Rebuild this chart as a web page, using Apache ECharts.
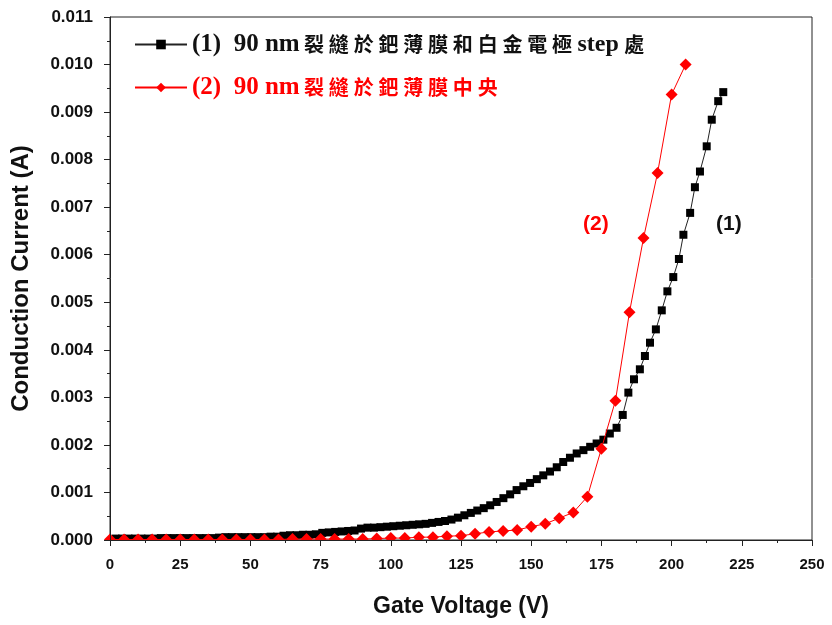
<!DOCTYPE html>
<html>
<head>
<meta charset="utf-8">
<script src="https://cdn.jsdelivr.net/npm/echarts@6/dist/echarts.min.js"></script>
<style>
  html, body { margin: 0; padding: 0; background: #fff; }
  #chart { width: 832px; height: 625px; }
</style>
</head>
<body>
<div id="chart"></div>
<script>
// Sample (1): crack at the Pd film / Pt electrode step
const name1 = '(1)  90 nm裂縫於鈀薄膜和白金電極step處';
const voltage1 = [
  2.0, 4.3, 6.6, 8.9, 11.2, 13.5, 15.8, 18.1, 20.4, 22.7,
  25.0, 27.3, 29.6, 31.9, 34.2, 36.5, 38.8, 41.1, 43.4, 45.7,
  48.0, 50.3, 52.6, 54.9, 57.2, 59.5, 61.8, 64.1, 66.4, 68.7,
  71.0, 73.3, 75.6, 77.9, 80.2, 82.5, 84.8, 87.1, 89.4, 91.7,
  94.0, 96.3, 98.6, 100.9, 103.2, 105.5, 107.8, 110.1, 112.4, 114.7,
  117.0, 119.3, 121.6, 123.9, 126.2, 128.5, 130.8, 133.1, 135.4, 137.7,
  140.1, 142.5, 144.8, 147.2, 149.6, 152.0, 154.3, 156.7, 159.1, 161.4,
  163.8, 166.2, 168.6, 171.0, 173.3, 175.7, 178.0, 180.4, 182.6, 184.6,
  186.6, 188.7, 190.5, 192.3, 194.4, 196.5, 198.5, 200.6, 202.6, 204.2,
  206.6, 208.3, 210.1, 212.5, 214.3, 216.6, 218.4
];
const current1 = [
  0.00003, 0.00003, 0.00003, 0.00003, 0.00003, 0.00003, 0.00003, 0.00004, 0.00004, 0.00004,
  0.00004, 0.00004, 0.00004, 0.00004, 0.00004, 0.00004, 0.00005, 0.00006, 0.00006, 0.00006,
  0.00006, 0.00006, 0.00006, 0.00006, 0.00007, 0.00007, 0.00009, 0.00010, 0.00010, 0.00011,
  0.00011, 0.00012, 0.00015, 0.00016, 0.00017, 0.00018, 0.00019, 0.00020, 0.00024, 0.00026,
  0.00026, 0.00027, 0.00028, 0.00029, 0.00030, 0.00031, 0.00032, 0.00033, 0.00034, 0.00036,
  0.00038, 0.00040, 0.00043, 0.00047, 0.00052, 0.00057, 0.00062, 0.00067, 0.00073, 0.00080,
  0.00088, 0.00096, 0.00105, 0.00113, 0.00120, 0.00128, 0.00136, 0.00144, 0.00153, 0.00164,
  0.00173, 0.00182, 0.00189, 0.00196, 0.00203, 0.00211, 0.00224, 0.00236, 0.00263, 0.00310,
  0.00338, 0.00359, 0.00387, 0.00415, 0.00443, 0.00483, 0.00523, 0.00553, 0.00591, 0.00642,
  0.00688, 0.00742, 0.00775, 0.00828, 0.00884, 0.00923, 0.00942
];

// Sample (2): crack in the middle of the Pd film
const name2 = '(2)  90 nm裂縫於鈀薄膜中央';
const voltage2 = [
  0, 5, 10, 15, 20, 25, 30, 35, 40, 45,
  50, 55, 60, 65, 70, 75, 80, 85, 90, 95,
  100, 105, 110, 115, 120, 125, 130, 135, 140, 145,
  150, 155, 160, 165, 170, 175, 180, 185, 190, 195,
  200, 205
];
const current2 = [
  0.00001, 0.00001, 0.00001, 0.00001, 0.00001, 0.00001, 0.00001, 0.00001, 0.00001, 0.00001,
  0.00001, 0.00001, 0.00001, 0.00002, 0.00002, 0.00002, 0.00002, 0.00002, 0.00002, 0.00003,
  0.00004, 0.00004, 0.00006, 0.00006, 0.00008, 0.00009, 0.00013, 0.00017, 0.00019, 0.00021,
  0.00028, 0.00034, 0.00046, 0.00058, 0.00091, 0.00192, 0.00293, 0.00479, 0.00635, 0.00772,
  0.00937, 0.01000
];

// Axis ranges and tick steps
const xMin = 0, xMax = 250, xStep = 25;
const yMin = 0, yMax = 0.011, yStep = 0.001;

const xTitle = 'Gate Voltage (V)';
const yTitle = 'Conduction Current (A)';
const tag1 = '(1)';
const tag2 = '(2)';

const pairs = (xs, ys) => xs.map((x, i) => [x, ys[i]]);

const axisFont = 'Liberation Sans, Arial, sans-serif';

// Legend labels: Latin runs in a serif face, each CJK character spaced out on its own
function legendLabel(text) {
  let out = '';
  let latin = '';
  let first = true;
  const flush = () => {
    if (latin) { out += '{' + (first ? 'l' : 's') + '|' + latin + '}'; latin = ''; first = false; }
  };
  for (const ch of text) {
    if (/[\u3400-\u9fff]/.test(ch)) {
      flush();
      first = false;
      out += '{k|' + ch + '}';
    } else {
      latin += ch;
    }
  }
  flush();
  return out;
}

const chart = echarts.init(document.getElementById('chart'), null, { renderer: 'canvas' });

chart.setOption({
  animation: false,
  backgroundColor: '#ffffff',
  grid: {
    left: 110, right: 20, top: 17, bottom: 85,
    show: true, borderColor: '#222', borderWidth: 1, backgroundColor: 'transparent'
  },
  legend: {
    orient: 'vertical',
    left: 129, top: 27,
    itemWidth: 52, itemHeight: 12, itemGap: 18,
    formatter: legendLabel,
    textStyle: {
      fontWeight: 'bold', color: '#111', fontSize: 22,
      rich: {
        l: { fontFamily: 'Liberation Serif, serif', fontSize: 25, fontWeight: 'bold', padding: [0, 2, 0, 0] },
        s: { fontFamily: 'Liberation Serif, serif', fontSize: 24, fontWeight: 'bold', padding: [0, 3, 0, 3] },
        k: { fontFamily: 'Noto Sans CJK TC, sans-serif', fontSize: 20, fontWeight: 'bold', padding: [0, 2.4, 0, 2.4] }
      }
    },
    data: [
      { name: name1, textStyle: { color: '#111' } },
      { name: name2, textStyle: { color: '#ff0000' } }
    ]
  },
  xAxis: {
    type: 'value', min: xMin, max: xMax, interval: xStep, z: 100,
    name: xTitle, nameLocation: 'middle', nameGap: 55,
    nameTextStyle: { fontFamily: axisFont, fontSize: 23, fontWeight: 'bold', color: '#111' },
    axisLine: { show: true, lineStyle: { color: '#222', width: 1 } },
    axisTick: { show: true, inside: false, length: 6, lineStyle: { color: '#222' } },
    minorTick: { show: true, splitNumber: 2, length: 3, lineStyle: { color: '#222' } },
    splitLine: { show: false },
    axisLabel: { margin: 17, fontFamily: axisFont, fontSize: 15, fontWeight: 'bold', color: '#111' }
  },
  yAxis: {
    type: 'value', min: yMin, max: yMax, interval: yStep, z: 100,
    name: yTitle, nameLocation: 'middle', nameGap: 77,
    nameTextStyle: { fontFamily: axisFont, fontSize: 24, fontWeight: 'bold', color: '#111' },
    axisLine: { show: true, lineStyle: { color: '#222', width: 1 } },
    axisTick: { show: true, inside: false, length: 6, lineStyle: { color: '#222' } },
    minorTick: { show: true, splitNumber: 2, length: 3, lineStyle: { color: '#222' } },
    splitLine: { show: false },
    axisLabel: {
      margin: 17, fontFamily: axisFont, fontSize: 17, fontWeight: 'bold', color: '#111',
      formatter: v => v.toFixed(3)
    }
  },
  graphic: [
    // mask below the bottom axis so markers sitting on zero appear cut by the frame
    { type: 'rect', z: 50, shape: { x: 100, y: 541, width: 720, height: 7 }, style: { fill: '#fff' } },
    { type: 'text', z: 60, left: 583, top: 214,
      style: { text: tag2, fill: '#ff0000', font: 'bold 21px Liberation Sans, Arial, sans-serif' } },
    { type: 'text', z: 60, left: 716, top: 214,
      style: { text: tag1, fill: '#111', font: 'bold 21px Liberation Sans, Arial, sans-serif' } }
  ],
  series: [
    {
      name: name1, type: 'line', data: pairs(voltage1, current1),
      symbol: 'rect', symbolSize: 8, showSymbol: true,
      lineStyle: { color: '#222', width: 1 },
      itemStyle: { color: '#000' },
      z: 3
    },
    {
      name: name2, type: 'line', data: pairs(voltage2, current2),
      symbol: 'diamond', symbolSize: 12, showSymbol: true,
      lineStyle: { color: '#ff0000', width: 1 },
      itemStyle: { color: '#ff0000' },
      z: 4
    }
  ]
});
</script>
</body>
</html>
